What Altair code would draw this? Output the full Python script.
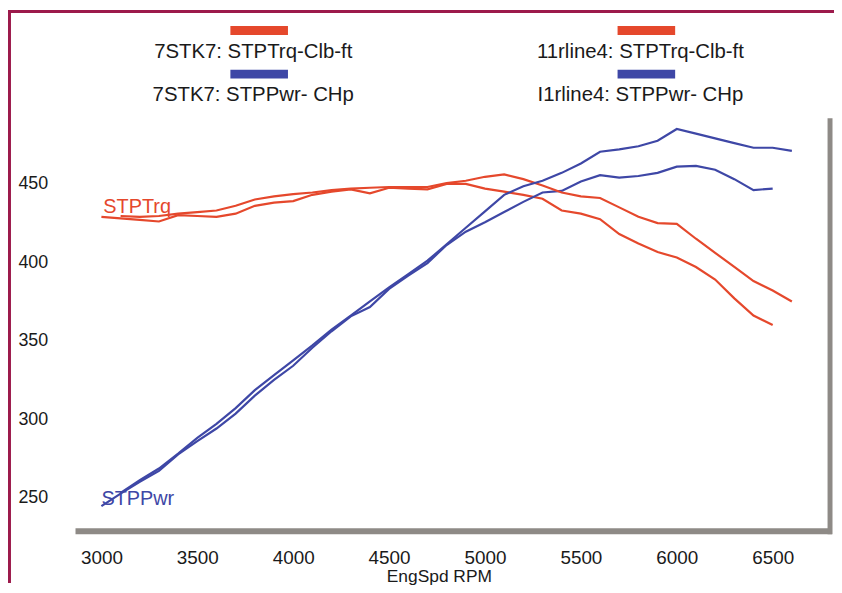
import altair as alt
import pandas as pd

# ---- data ----
rpm_7stk7 = [3000, 3100, 3200, 3300, 3400, 3500, 3600, 3700, 3800, 3900,
             4000, 4100, 4200, 4300, 4400, 4500, 4600, 4700, 4800, 4900,
             5000, 5100, 5200, 5300, 5400, 5500, 5600, 5700, 5800, 5900,
             6000, 6100, 6200, 6300, 6400, 6500]
trq_7stk7 = [429, 428, 427, 426, 430, 429.5, 429, 431, 436, 438,
             439, 443, 445, 446.5, 444, 447.5, 447, 446.5, 450, 450,
             447, 445, 443, 440.5, 433, 431, 427.5, 418, 412, 406.5,
             403, 397, 389, 377, 366, 360]
pwr_7stk7 = [244.5, 252.5, 260, 267, 277.5, 286, 294, 303.5, 315, 325,
             334, 345.5, 356, 365.5, 371.5, 383, 391.5, 399.5, 411, 419.5,
             425.5, 432, 438.5, 444.5, 445.5, 451.5, 455.5, 454, 455, 457,
             461, 461.5, 459, 453, 446, 447]

rpm_11rline4 = [3100, 3200, 3300, 3400, 3500, 3600, 3700, 3800, 3900, 4000,
                4100, 4200, 4300, 4400, 4500, 4600, 4700, 4800, 4900, 5000,
                5100, 5200, 5300, 5400, 5500, 5600, 5700, 5800, 5900, 6000,
                6100, 6200, 6300, 6400, 6500, 6600]
trq_11rline4 = [429.5, 429, 429.5, 431, 432, 433, 436, 440, 442, 443.5,
                444.5, 446, 447, 447.5, 448, 448, 448, 450.5, 452, 454.5,
                456, 453, 449, 444.5, 442, 441, 435, 429, 425, 424.5,
                415, 406, 397, 388, 382, 375]
pwr_11rline4 = [253, 261, 268.5, 278, 288, 297, 307, 318.5, 328, 337.5,
                347, 357, 366, 375, 384, 392.5, 401, 411.5, 422, 432.5,
                443, 448.5, 452, 457, 463, 470.5, 472, 474, 477.5, 485,
                482, 479, 476, 473, 473, 471]

x_ticks = [3000, 3500, 4000, 4500, 5000, 5500, 6000, 6500]
y_ticks = [250, 300, 350, 400, 450]
legend_left = ["7STK7: STPTrq-Clb-ft", "7STK7: STPPwr- CHp"]
legend_right = ["11rline4: STPTrq-Clb-ft", "I1rline4: STPPwr- CHp"]
x_title = "EngSpd  RPM"

RED = "#E5482C"
BLUE = "#3E47A6"
FONT = "Liberation Sans"

rows = []
for r, v in zip(rpm_7stk7, trq_7stk7):
    rows.append({"rpm": r, "value": v, "series": "7STK7 trq", "kind": "torque"})
for r, v in zip(rpm_7stk7, pwr_7stk7):
    rows.append({"rpm": r, "value": v, "series": "7STK7 pwr", "kind": "power"})
for r, v in zip(rpm_11rline4, trq_11rline4):
    rows.append({"rpm": r, "value": v, "series": "11rline4 trq", "kind": "torque"})
for r, v in zip(rpm_11rline4, pwr_11rline4):
    rows.append({"rpm": r, "value": v, "series": "11rline4 pwr", "kind": "power"})
df = pd.DataFrame(rows)

xscale = alt.Scale(domain=[2865, 6799], nice=False, zero=False)
yscale = alt.Scale(domain=[229.1, 491.8], nice=False, zero=False)

lines = alt.Chart(df).mark_line(strokeWidth=2.2).encode(
    x=alt.X("rpm:Q", scale=xscale,
            axis=alt.Axis(values=x_ticks, title=x_title, grid=False, ticks=False,
                          domain=False, labelFontSize=19, labelPadding=18,
                          labelFlush=False, labelFont=FONT, labelColor="#1a1a1a",
                          titleFont=FONT, titleFontSize=17.5, titleFontWeight="normal",
                          titleColor="#1a1a1a", titleX=366, titleY=52,
                          titleBaseline="alphabetic", format="d")),
    y=alt.Y("value:Q", scale=yscale,
            axis=alt.Axis(values=y_ticks, title=None, grid=False, ticks=False,
                          domain=False, labelFontSize=18, labelPadding=28,
                          labelFont=FONT, labelColor="#1a1a1a", format="d")),
    color=alt.Color("kind:N", scale=alt.Scale(domain=["torque", "power"], range=[RED, BLUE]),
                    legend=None),
    detail="series:N",
)

lab_df = pd.DataFrame({"rpm": [3010, 3000], "value": [431.5, 245.0],
                       "label": ["STPTrq", "STPPwr"], "kind": ["torque", "power"]})
line_labels = alt.Chart(lab_df).mark_text(align="left", baseline="alphabetic",
                                          fontSize=20, font=FONT).encode(
    x=alt.X("rpm:Q", scale=xscale),
    y=alt.Y("value:Q", scale=yscale),
    text="label:N",
    color=alt.Color("kind:N", scale=alt.Scale(domain=["torque", "power"],
                                              range=["#E05A3E", "#4A50A8"]), legend=None),
)

one = pd.DataFrame({"a": [0]})

def rule(color, width, **enc):
    return alt.Chart(one).mark_rule(color=color, strokeWidth=width).encode(**enc)

bottom_bar = rule("#8e8a86", 6, x=alt.value(0), x2=alt.value(762), y=alt.value(416))
right_bar = rule("#8e8a86", 5, x=alt.value(760), y=alt.value(0), y2=alt.value(419))
maroon_top = rule("#9c1a4b", 3, x=alt.value(-68), x2=alt.value(766), y=alt.value(-107.5))
maroon_left = rule("#9c1a4b", 3, x=alt.value(-66.5), y=alt.value(-109), y2=alt.value(468))

legend_parts = []
for cx, labels in [(179, legend_left), (569, legend_right)]:
    legend_parts.append(rule(RED, 9, x=alt.value(cx - 23), x2=alt.value(cx + 35),
                             y=alt.value(-88.5)))
    legend_parts.append(rule(BLUE, 9, x=alt.value(cx - 23), x2=alt.value(cx + 35),
                             y=alt.value(-44.5)))
    for i, lab in enumerate(labels):
        legend_parts.append(
            alt.Chart(one).mark_text(fontSize=20.5, font=FONT, color="#1a1a1a",
                                     align="center", baseline="middle").encode(
                x=alt.value(cx), y=alt.value(-67 + 44 * i), text=alt.value(lab)))

chart = alt.layer(
    bottom_bar, right_bar, maroon_top, maroon_left, lines, line_labels, *legend_parts
).properties(
    width=760, height=415,
    autosize=alt.AutoSizeParams(type="none"),
    padding={"left": 68, "top": 109, "right": 4, "bottom": 53},
    background="white",
).configure_view(stroke=None)

chart.save("out.html", embed_options={"renderer": "svg", "actions": False})
